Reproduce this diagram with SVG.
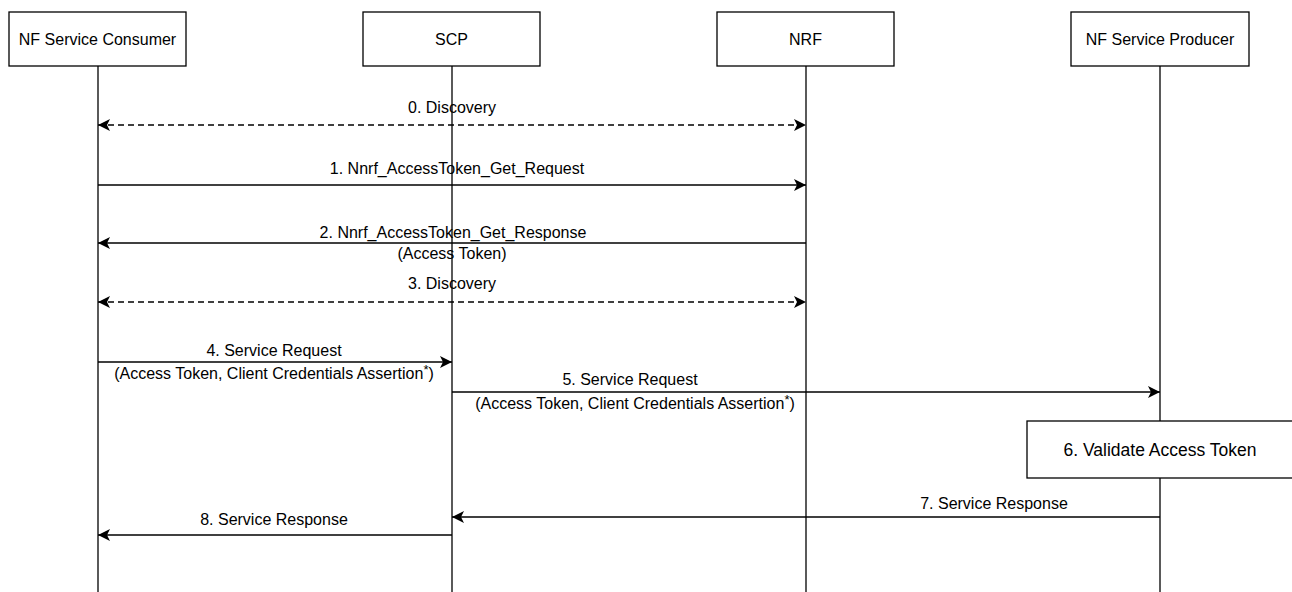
<svg xmlns="http://www.w3.org/2000/svg" width="1292" height="592" viewBox="0 0 1292 592">
  <style>
    .box { fill: #ffffff; stroke: #000000; stroke-width: 1.3; }
    .life { stroke: #000000; stroke-width: 1.3; fill: none; }
    .msg { stroke: #000000; stroke-width: 1.3; fill: none; }
    .dash { stroke-dasharray: 6 4; }
    text { font-family: "Liberation Sans", Arial, Helvetica, sans-serif; font-size: 16px; fill: #000000; }
    .c { text-anchor: middle; }
    .big { font-size: 17.5px; }
    .sup { font-size: 13px; }
  </style>
  <defs>
    <marker id="arr" markerUnits="userSpaceOnUse" viewBox="-13 -7 14 14" refX="0" refY="0" markerWidth="14" markerHeight="14" orient="auto-start-reverse">
      <path d="M0,0 L-12,-6 L-9,0 L-12,6 Z" fill="#000000"/>
    </marker>
  </defs>
  <rect width="1292" height="592" fill="#ffffff"/>

  <g id="lifelines">
    <line class="life" x1="98" y1="66" x2="98" y2="592"/>
    <line class="life" x1="452" y1="66" x2="452" y2="592"/>
    <line class="life" x1="806" y1="66" x2="806" y2="592"/>
    <line class="life" x1="1160" y1="66" x2="1160" y2="421"/>
    <line class="life" x1="1160" y1="478" x2="1160" y2="592"/>
  </g>

  <g id="consumer">
    <rect class="box" x="9" y="12" width="177" height="54"/>
    <text class="c" x="97.5" y="44.5">NF Service Consumer</text>
  </g>
  <g id="scp">
    <rect class="box" x="363" y="12" width="177" height="54"/>
    <text class="c" x="451.5" y="44.5">SCP</text>
  </g>
  <g id="nrf">
    <rect class="box" x="717" y="12" width="177" height="54"/>
    <text class="c" x="805.5" y="44.5">NRF</text>
  </g>
  <g id="producer">
    <rect class="box" x="1071" y="12" width="178" height="54"/>
    <text class="c" x="1160" y="44.5">NF Service Producer</text>
  </g>
  <g id="validate">
    <rect class="box" x="1027" y="421" width="266" height="57"/>
    <text class="c big" x="1160" y="456">6. Validate Access Token</text>
  </g>

  <g id="connectors">
    <line class="msg dash" x1="98" y1="125" x2="806" y2="125" marker-start="url(#arr)" marker-end="url(#arr)"/>
    <line class="msg" x1="98" y1="185" x2="806" y2="185" marker-end="url(#arr)"/>
    <line class="msg" x1="806" y1="243" x2="98" y2="243" marker-end="url(#arr)"/>
    <line class="msg dash" x1="98" y1="302" x2="806" y2="302" marker-start="url(#arr)" marker-end="url(#arr)"/>
    <line class="msg" x1="98" y1="362" x2="452" y2="362" marker-end="url(#arr)"/>
    <line class="msg" x1="452" y1="392" x2="1160" y2="392" marker-end="url(#arr)"/>
    <line class="msg" x1="1160" y1="517" x2="452" y2="517" marker-end="url(#arr)"/>
    <line class="msg" x1="452" y1="535" x2="98" y2="535" marker-end="url(#arr)"/>
  </g>

  <g id="labels">
    <text class="c" x="452" y="113">0. Discovery</text>
    <text class="c" x="457" y="174">1. Nnrf_AccessToken_Get_Request</text>
    <text class="c" x="453" y="238">2. Nnrf_AccessToken_Get_Response</text>
    <text class="c" x="452" y="259">(Access Token)</text>
    <text class="c" x="452" y="289">3. Discovery</text>
    <text class="c" x="274" y="356">4. Service Request</text>
    <text class="c" x="274" y="379">(Access Token, Client Credentials Assertion<tspan class="sup" dy="-5">*</tspan><tspan dy="5">)</tspan></text>
    <text class="c" x="630" y="385">5. Service Request</text>
    <text class="c" x="635" y="409">(Access Token, Client Credentials Assertion<tspan class="sup" dy="-5">*</tspan><tspan dy="5">)</tspan></text>
    <text class="c" x="994" y="509">7. Service Response</text>
    <text class="c" x="274" y="525">8. Service Response</text>
  </g>
</svg>
